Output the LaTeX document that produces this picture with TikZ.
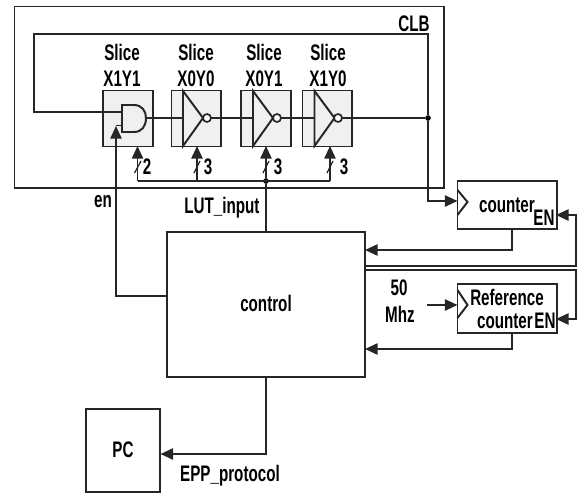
\documentclass[tikz,border=0pt]{standalone}
\usepackage{fontspec}
\setmainfont[FakeStretch=0.675]{Liberation Sans}
\definecolor{slicegray}{RGB}{240,240,240}
\usetikzlibrary{arrows.meta}
\tikzset{
  every picture/.style={/utils/exec={\bfseries}},
  box/.style={draw=black!85, line width=1.4pt, anchor=north west, outer sep=0pt, inner sep=0pt},
  slicebox/.style={box, fill=slicegray, minimum width=1.24cm, minimum height=1.4cm},
  txt/.style={font=\fontsize{16}{18}\selectfont\bfseries, inner sep=0pt, text=black},
  wire/.style={draw=black!85, line width=1.4pt},
  conn/.style={wire, -{Triangle[length=9pt, width=8pt]}},
  bubble/.style={circle, draw=black!85, line width=1.2pt, fill=white, minimum size=0.2cm, inner sep=0pt, outer sep=0pt},
  dotnode/.style={circle, fill=black, minimum size=4pt, inner sep=0pt, outer sep=0pt},
}

\begin{document}
\begin{tikzpicture}[x=0.025cm, y=-0.025cm]
  \useasboundingbox (0,0) rectangle (586,493);

  % blocks
  \node [box, minimum width=10.725cm, minimum height=4.525cm] (clb) at (14.5,6.5) {};
  \node [box, minimum width=4.95cm, minimum height=3.625cm] (control) at (167,232) {};
  \node [box, minimum width=2.475cm, minimum height=1.2cm] (counter) at (457.5,181) {};
  \node [box, minimum width=2.475cm, minimum height=1.225cm] (refcounter) at (457.5,284) {};
  \node [box, minimum width=1.85cm, minimum height=2.075cm] (pc) at (86,409) {};

  \node [slicebox] (slicea) at (103,90.5) {};
  \node [slicebox] (sliceb) at (171.5,90.5) {};
  \node [slicebox] (slicec) at (241,90.5) {};
  \node [slicebox] (sliced) at (302.5,90.5) {};

  % gates
  \draw [wire] (122,105) -- (134,105) .. controls (142,105) and (146,111) .. (146,118)
    .. controls (146,126) and (142,132) .. (134,132) -- (122,132) -- cycle;
  \draw [wire] (183,91) -- (183,146) -- (203,118) -- cycle;
  \draw [wire] (253,91) -- (253,146) -- (273,118) -- cycle;
  \draw [wire] (314.5,91) -- (314.5,146) -- (334.5,118) -- cycle;
  \node [bubble] (invb) at (207,118) {};
  \node [bubble] (invc) at (277,118) {};
  \node [bubble] (invd) at (338,118) {};

  % ring of slices
  \coordinate (anda) at (122,112);
  \coordinate (andb) at (122,125.5);
  \coordinate (andout) at (146,118);
  \coordinate (inb) at (183,118);
  \coordinate (inc) at (253,118);
  \coordinate (ind) at (314.5,118);
  \coordinate (ringright) at (428,118);
  \coordinate (ringtop) at (428,34);
  \coordinate (ringleft) at (34,34);
  \coordinate (ringback) at (34,112);
  \coordinate (clkcnt) at (457.5,201);
  \node [dotnode] (ringdot) at (ringright) {};
  \draw [wire] (andout) -- (inb);
  \draw [wire] (invb) -- (inc);
  \draw [wire] (invc) -- (ind);
  \draw [wire] (invd) -- (ringdot);
  \draw [wire] (anda) -- (ringback) -- (ringleft) -- (ringtop) -- (ringdot);
  \draw [conn] (ringdot) |- (clkcnt);

  % en
  \coordinate (enstart) at (167,296);
  \coordinate (enpath) at (116,296);
  \coordinate (entip) at (116,126);
  \draw [conn] (enstart) -- (enpath) -- (entip);
  \draw [wire] (116,125.5) -- (andb);

  % lut inputs
  \coordinate (lutstart) at (266,232);
  \coordinate (tipa) at (137.5,146);
  \coordinate (tipb) at (197,146);
  \coordinate (tipc) at (266,146);
  \coordinate (tipd) at (330,146);
  \node [dotnode] (lutdot) at (266,181) {};
  \coordinate (busa) at (137.5,181);
  \coordinate (busb) at (197,181);
  \coordinate (busd) at (330,181);
  \draw [wire] (lutstart) -- (lutdot);
  \draw [conn] (lutdot) -- (tipc);
  \draw [wire] (busa) -- (busd);
  \draw [conn] (busa) -- (tipa);
  \draw [conn] (busb) -- (tipb);
  \draw [conn] (busd) -- (tipd);
  \draw [wire, line width=0.9pt] (134.5,173) -- (141,161);
  \draw [wire, line width=0.9pt] (194,173) -- (200,161);
  \draw [wire, line width=0.9pt] (263,173) -- (269,161);
  \draw [wire, line width=0.9pt] (327,173) -- (333,161);

  % counters
  \draw [wire] (457.5,190) -- (467.5,202) -- (457.5,215);
  \draw [wire] (457.5,290) -- (467.5,305) -- (457.5,318);
  \coordinate (cntout) at (512,229);
  \coordinate (cntback) at (365,250);
  \coordinate (refout) at (512,333);
  \coordinate (refback) at (365,349);
  \coordinate (enstarta) at (365,266);
  \coordinate (enstartb) at (365,270);
  \coordinate (encnt) at (556,215);
  \coordinate (enref) at (556,319);
  \coordinate (enturna) at (576,266);
  \coordinate (enturnb) at (576,270);
  \coordinate (clkstart) at (427,305);
  \coordinate (clkref) at (457.5,305);
  \draw [conn] (cntout) |- (cntback);
  \draw [conn] (refout) |- (refback);
  \draw [conn] (enstarta) -- (enturna) |- (encnt);
  \draw [conn] (enstartb) -- (enturnb) |- (enref);
  \draw [conn] (clkstart) -- (clkref);

  % pc link
  \coordinate (eppstart) at (266,377);
  \coordinate (pctip) at (160.5,454);
  \draw [conn] (eppstart) |- (pctip);

  % labels
  \node [txt] (clblabel) at (414,24) {CLB};
  \node [txt] (titlea) at (122,52) {Slice};
  \node [txt] (titleb) at (196,52) {Slice};
  \node [txt] (titlec) at (264,52) {Slice};
  \node [txt] (titled) at (328,52) {Slice};
  \node [txt] (namea) at (122,79) {X1Y1};
  \node [txt] (nameb) at (196,79) {X0Y0};
  \node [txt] (namec) at (264,79) {X0Y1};
  \node [txt] (named) at (328,79) {X1Y0};
  \node [txt] (widtha) at (147,167) {2};
  \node [txt] (widthb) at (208,167) {3};
  \node [txt] (widthc) at (278,167) {3};
  \node [txt] (widthd) at (344,167) {3};
  \node [txt] (enlabel) at (103,202) {en};
  \node [txt] (lutlabel) at (222,208) {LUT\_input};
  \node [txt] (controllabel) at (266,303) {control};
  \node [txt] (cntlabel) at (507,205) {counter};
  \node [txt] (cnten) at (544,218) {EN};
  \node [txt] (reflabel) at (507,297) {Reference};
  \node [txt] (refcntlabel) at (505,321) {counter};
  \node [txt] (refen) at (545,321) {EN};
  \node [txt] (fiftylabel) at (399,288) {50};
  \node [txt] (mhzlabel) at (400,314) {Mhz};
  \node [txt] (pclabel) at (123,450) {PC};
  \node [txt] (epplabel) at (230,476) {EPP\_protocol};
\end{tikzpicture}
\end{document}
